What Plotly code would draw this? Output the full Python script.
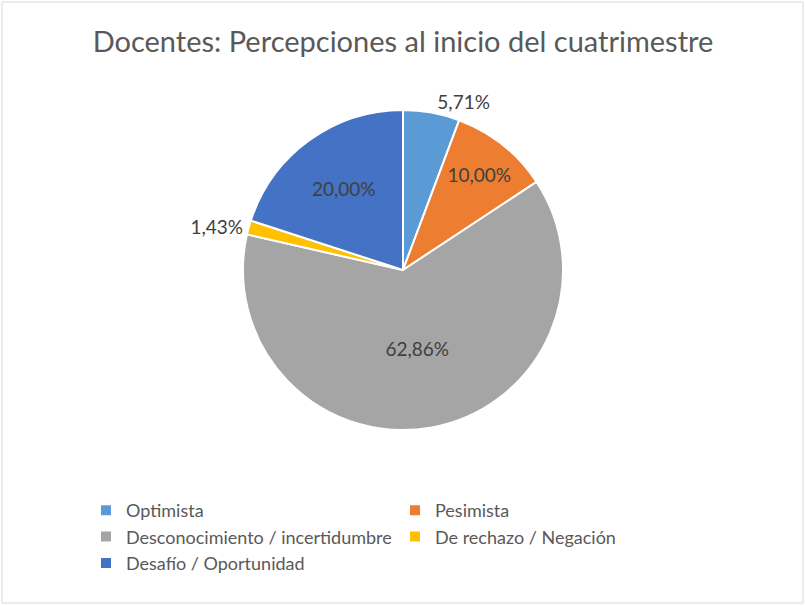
import plotly.graph_objects as go

categorias = ["Optimista", "Pesimista", "Desconocimiento / incertidumbre",
              "De rechazo / Negación", "Desafío / Oportunidad"]
respuestas = [4, 7, 44, 1, 14]
colores = ["#5B9BD5", "#ED7D31", "#A5A5A5", "#FFC000", "#4472C4"]
posiciones = ["outside", "inside", "inside", "outside", "inside"]

W, H = 806, 606
texto = "#404040"

fig = go.Figure(go.Pie(
    labels=categorias,
    values=respuestas,
    sort=False,
    direction="clockwise",
    rotation=0,
    marker=dict(colors=colores, line=dict(color="white", width=2)),
    texttemplate="%{percent:.2%}",
    textposition=posiciones,
    insidetextorientation="horizontal",
    textfont=dict(family="Lato", size=19, color=texto),
    domain=dict(x=[0, 1], y=[(H - 430) / H, (H - 110) / H]),
    hoverinfo="label+value+percent",
))

fig.update_layout(
    width=W, height=H,
    separators=",.",
    paper_bgcolor="white",
    margin=dict(l=0, r=0, t=0, b=0, autoexpand=False),
    font=dict(family="Lato", color="#595959"),
    title=dict(text="Docentes: Percepciones al inicio del cuatrimestre",
               x=0.5, xanchor="center", y=1 - 42 / H, yanchor="middle",
               font=dict(size=29, color="#595959")),
    legend=dict(orientation="h", x=86 / W, xanchor="left",
                y=1 - 492 / H, yanchor="top",
                entrywidth=264, entrywidthmode="pixels", itemwidth=30,
                font=dict(size=18, color="#595959")),
    shapes=[dict(type="rect", xref="paper", yref="paper",
                 x0=2 / W, x1=1 - 3 / W, y0=3 / H, y1=1 - 2 / H,
                 line=dict(color="#D9D9D9", width=1))],
)

fig.write_html("out.html", config={"displayModeBar": False},
               post_script="document.body.style.margin='0';")
